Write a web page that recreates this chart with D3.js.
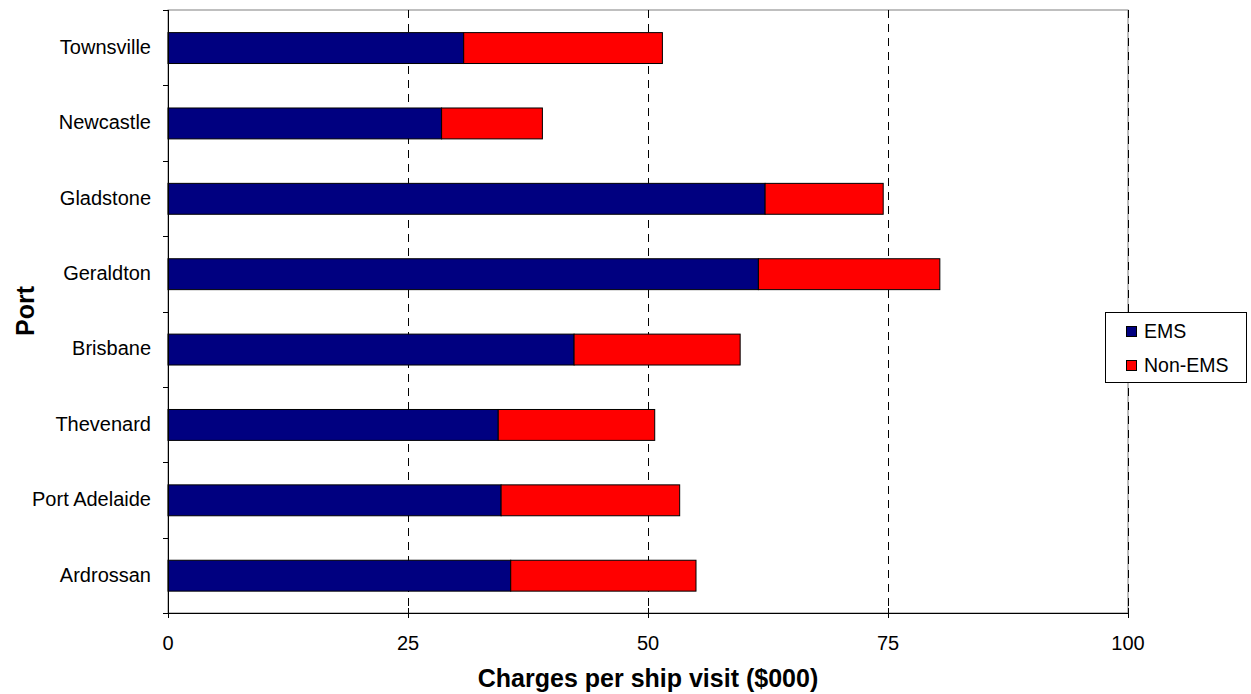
<!DOCTYPE html>
<html>
<head>
<meta charset="utf-8">
<script src="https://cdn.jsdelivr.net/npm/d3@7"></script>
<style>
  html, body { margin: 0; padding: 0; background: #fff; }
  svg { display: block; font-family: "Liberation Sans", Arial, sans-serif; }
</style>
</head>
<body>
<svg id="chart" width="1251" height="694"></svg>
<script>
const ports = ["Townsville", "Newcastle", "Gladstone", "Geraldton", "Brisbane", "Thevenard", "Port Adelaide", "Ardrossan"];
const emsValues = [30.8, 28.5, 62.2, 61.5, 42.3, 34.4, 34.7, 35.7];
const nonEmsValues = [20.7, 10.5, 12.3, 18.9, 17.3, 16.3, 18.6, 19.3];
const xTicks = [0, 25, 50, 75, 100];
const seriesNames = ["EMS", "Non-EMS"];
const seriesColors = ["#000080", "#FF0000"];

const svg = d3.select("#chart");
const m = { left: 168, right: 1128, top: 10, bottom: 613 };

const x = d3.scaleLinear().domain([0, 100]).range([m.left, m.right]);
const y = d3.scaleBand().domain(ports).range([m.top, m.bottom]).paddingInner(0).paddingOuter(0);
const bw = y.bandwidth();

// plot border (gray)
svg.append("rect")
  .attr("x", m.left).attr("y", m.top)
  .attr("width", m.right - m.left).attr("height", m.bottom - m.top)
  .attr("fill", "none").attr("stroke", "#808080").attr("stroke-width", 1);

// gridlines
svg.append("g").selectAll("line")
  .data(xTicks.filter(t => t > 0))
  .join("line")
  .attr("x1", d => Math.round(x(d)) + 0.5).attr("x2", d => Math.round(x(d)) + 0.5)
  .attr("y1", m.top).attr("y2", m.bottom)
  .attr("stroke", "#000").attr("stroke-width", 1)
  .attr("stroke-dasharray", "8,6");

// stacked data
const rows = ports.map((p, i) => ({ port: p, vals: [emsValues[i], nonEmsValues[i]] }));
const segs = [];
rows.forEach(r => {
  let acc = 0;
  r.vals.forEach((v, k) => {
    segs.push({ port: r.port, x0: acc, x1: acc + v, k });
    acc += v;
  });
});

svg.append("g").selectAll("rect")
  .data(segs)
  .join("rect")
  .attr("x", d => x(d.x0))
  .attr("y", d => y(d.port) + bw * 0.3)
  .attr("width", d => x(d.x1) - x(d.x0))
  .attr("height", bw * 0.41)
  .attr("fill", d => seriesColors[d.k])
  .attr("stroke", "#000").attr("stroke-width", 1);

// left axis
svg.append("line")
  .attr("x1", m.left + 0.5).attr("x2", m.left + 0.5)
  .attr("y1", m.top).attr("y2", m.bottom)
  .attr("stroke", "#000");
const yBounds = ports.map(p => y(p)).concat([m.bottom]);
svg.append("g").selectAll("line")
  .data(yBounds)
  .join("line")
  .attr("x1", m.left - 5).attr("x2", m.left)
  .attr("y1", d => Math.round(d) + 0.5).attr("y2", d => Math.round(d) + 0.5)
  .attr("stroke", "#000");
svg.append("g").selectAll("text")
  .data(ports)
  .join("text")
  .attr("x", 151)
  .attr("y", d => y(d) + bw / 2 + 1)
  .attr("text-anchor", "end")
  .attr("dominant-baseline", "middle")
  .attr("font-size", 20)
  .attr("fill", "#000")
  .text(d => d);

// bottom axis
svg.append("line")
  .attr("x1", m.left).attr("x2", m.right)
  .attr("y1", m.bottom + 0.5).attr("y2", m.bottom + 0.5)
  .attr("stroke", "#000");
svg.append("g").selectAll("line")
  .data(xTicks)
  .join("line")
  .attr("x1", d => Math.round(x(d)) + 0.5).attr("x2", d => Math.round(x(d)) + 0.5)
  .attr("y1", m.bottom - 5).attr("y2", m.bottom + 5)
  .attr("stroke", "#000");
svg.append("g").selectAll("text")
  .data(xTicks)
  .join("text")
  .attr("x", d => x(d))
  .attr("y", 650)
  .attr("text-anchor", "middle")
  .attr("font-size", 20)
  .attr("fill", "#000")
  .text(d => d);

// axis titles
svg.append("text")
  .attr("x", (m.left + m.right) / 2)
  .attr("y", 687)
  .attr("text-anchor", "middle")
  .attr("font-size", 25)
  .attr("font-weight", "bold")
  .text("Charges per ship visit ($000)");
svg.append("text")
  .attr("transform", "translate(34,311) rotate(-90)")
  .attr("text-anchor", "middle")
  .attr("font-size", 25)
  .attr("font-weight", "bold")
  .text("Port");

// legend
const lg = svg.append("g");
lg.append("rect")
  .attr("x", 1105.5).attr("y", 312.5)
  .attr("width", 141).attr("height", 70)
  .attr("fill", "#fff").attr("stroke", "#000");
const li = lg.selectAll("g.item")
  .data(seriesNames)
  .join("g").attr("class", "item")
  .attr("transform", (d, i) => `translate(0, ${i * 34})`);
li.append("rect")
  .attr("x", 1126.5).attr("y", 326.5)
  .attr("width", 10).attr("height", 10)
  .attr("fill", (d, i) => seriesColors[i])
  .attr("stroke", "#000");
li.append("text")
  .attr("x", 1144).attr("y", 338)
  .attr("font-size", 19.5)
  .text(d => d);
</script>
</body>
</html>
